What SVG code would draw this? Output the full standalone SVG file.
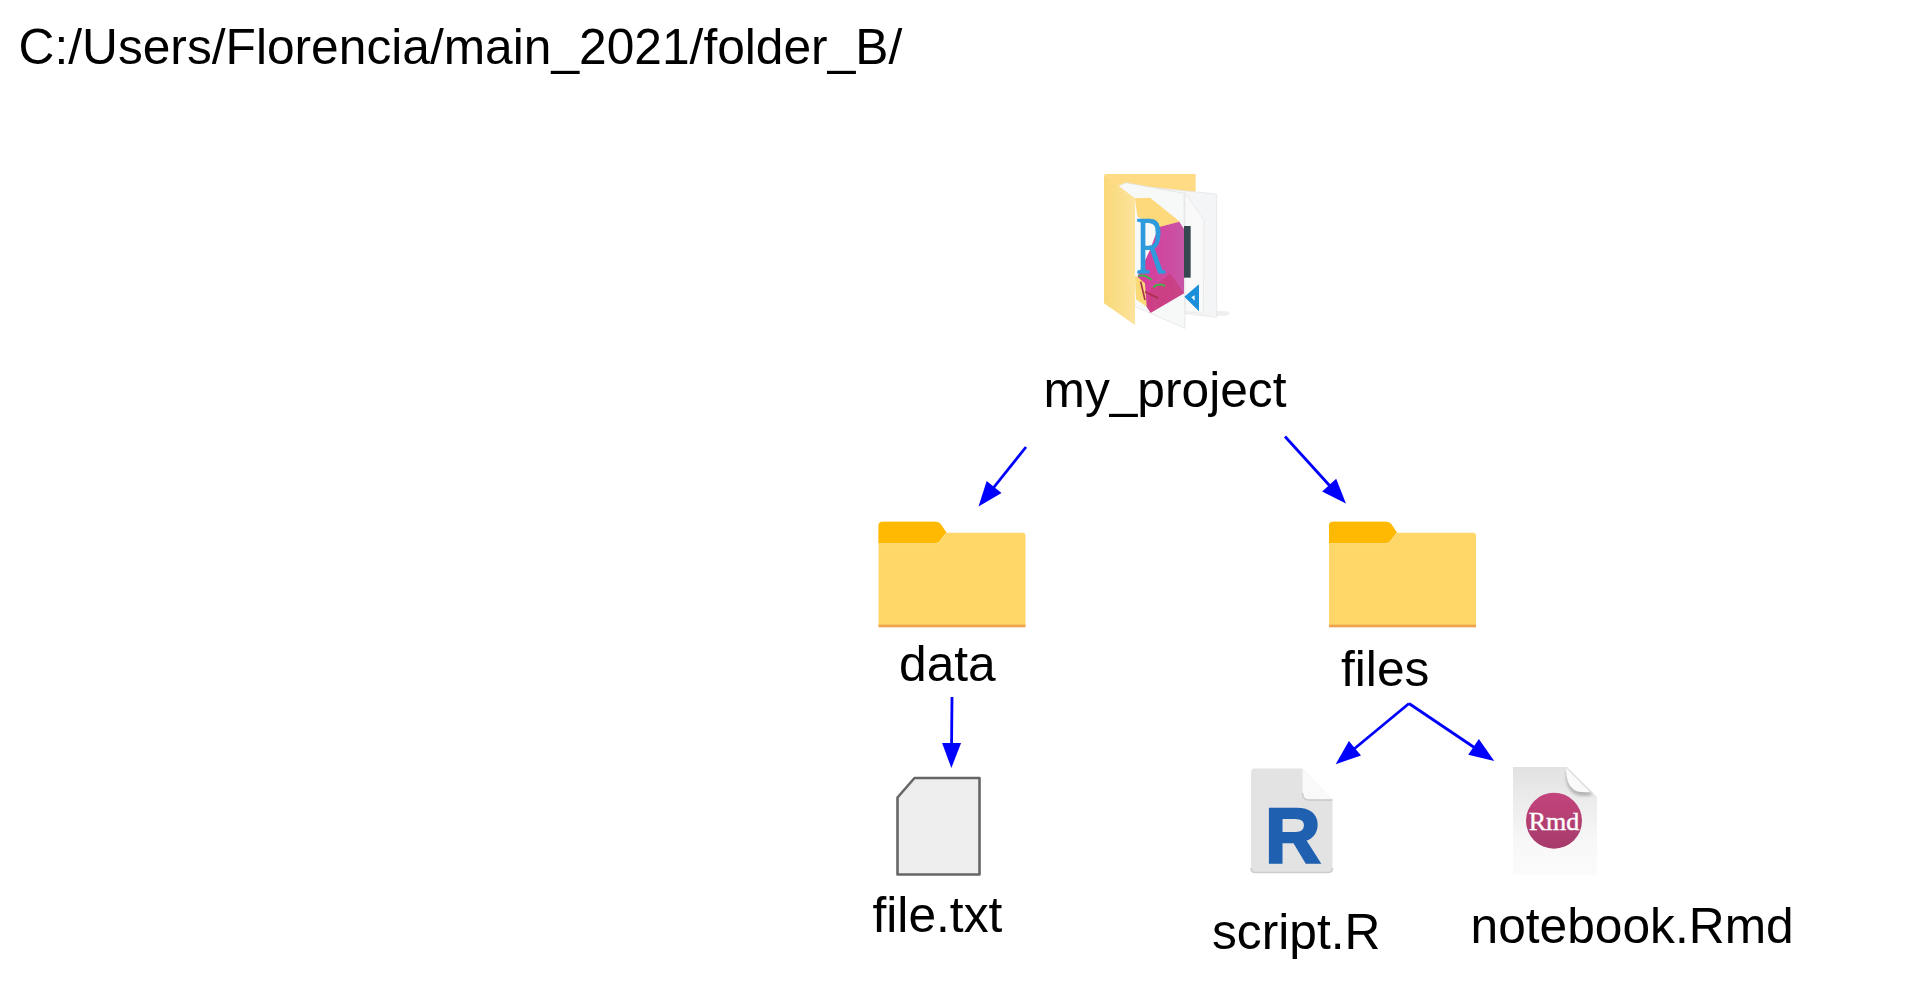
<svg xmlns="http://www.w3.org/2000/svg" width="1918" height="982" viewBox="0 0 1918 982">
<style>
.lbl{font-family:"Liberation Sans",Arial,sans-serif;font-size:49.7px;fill:#000}
.arrow{fill:none;stroke:#0000ff;stroke-width:2.8;marker-end:url(#head)}
</style>
<defs>
<marker id="head" markerUnits="userSpaceOnUse" markerWidth="26" markerHeight="20" refX="9" refY="9.5" orient="auto" overflow="visible"><path d="M0,0 L25,9.5 L0,19 Z" fill="#0000ff"/></marker>
<filter id="soft" x="-10%" y="-10%" width="120%" height="120%"><feGaussianBlur stdDeviation="0.6"/></filter>
<filter id="softer" x="-10%" y="-10%" width="120%" height="120%"><feGaussianBlur stdDeviation="1.5"/></filter>
<linearGradient id="flap" x1="0" y1="0" x2="1" y2="0"><stop offset="0" stop-color="#F8D878"/><stop offset="1" stop-color="#FDE49D"/></linearGradient>
<linearGradient id="pink" x1="0" y1="0" x2="1" y2="0"><stop offset="0" stop-color="#D9399A"/><stop offset="1" stop-color="#C755A6"/></linearGradient>
<linearGradient id="rmdpaper" x1="0" y1="0" x2="0" y2="1"><stop offset="0" stop-color="#E2E2E2"/><stop offset="0.7" stop-color="#F8F8F8"/><stop offset="1" stop-color="#FBFBFB"/></linearGradient>
<linearGradient id="rmdball" x1="0" y1="0" x2="0" y2="1"><stop offset="0" stop-color="#C4447C"/><stop offset="1" stop-color="#A53B6B"/></linearGradient>
<g id="folderIcon">
<path d="M0,22 V4 Q0,0 4,0 H57 Q60,0 62,2 L68,11 H144 Q147,11 147,14 V104 H0 Z" fill="#FFD768"/>
<path d="M0,22 V4 Q0,0 4,0 H57 Q60,0 62,2 L68,11 L61,20 Q59,22 56,22 Z" fill="#FFB900"/>
<path d="M68,11 L61,20 Q59,22 56,22 H0" fill="none" stroke="#FFE08A" stroke-width="1"/>
<rect x="0" y="103" width="147" height="2.6" fill="#EFA24C"/>
</g>
</defs>
<rect width="1918" height="982" fill="#ffffff"/>

<text id="path-label" class="lbl" x="18.5" y="63.5">C:/Users/Florencia/main_2021/folder_B/</text>

<g id="node-my_project">
<g transform="translate(1050 150) scale(0.3333)" filter="url(#soft)">
<ellipse cx="510" cy="490" rx="30" ry="8" fill="#EFEFEF"/>
<polygon points="162,72 437,72 437,180 255,180" fill="#FFDC83"/>
<polygon points="265,108 500,132 500,502 400,490 265,470" fill="#F4F5F6" stroke="#E2E2E2" stroke-width="2"/>
<polygon points="405,128 462,210 460,490 405,485" fill="#F9F9FA" stroke="#E4E4E4" stroke-width="2"/>
<polygon points="228,98 402,130 405,535 255,470 200,110" fill="#F7F8F8" stroke="#E0E0E0" stroke-width="2"/>
<rect x="402" y="228" width="20" height="155" fill="#34474F"/>
<path d="M447,403 V484 L403,440 Z M434,436 L424,442 L434,452 Z" fill="#1A8FDB" fill-rule="evenodd"/>
<polygon points="255,145 300,143 390,215 330,232 262,200" fill="#FDD97C"/>
<polygon points="255,378 292,395 292,472 258,448" fill="#FAD977"/>
<polygon points="325,232 388,215 402,237 402,430 302,488 290,470 285,400 262,380 300,300" fill="url(#pink)"/>
<polygon points="402,430 302,488 290,470 300,420 360,370" fill="#C93E7C" opacity="0.75"/>
<text x="258" y="368" font-family="Liberation Serif,serif" font-size="250" fill="#2E9BDD" stroke="#2E9BDD" stroke-width="2" textLength="88" lengthAdjust="spacingAndGlyphs">R</text>
<path d="M265,378 Q285,372 305,390 M310,412 Q325,398 345,408" fill="none" stroke="#3DB54A" stroke-width="6"/>
<path d="M272,395 L285,450 M285,425 L325,445" fill="none" stroke="#A8324E" stroke-width="5"/>
<polygon points="162,75 255,145 255,525 162,460" fill="url(#flap)"/>
</g>
<text class="lbl" x="1043.5" y="406.7">my_project</text>
</g>

<g id="node-data">
<use href="#folderIcon" x="878.5" y="521.7"/>
<text class="lbl" x="899" y="681">data</text>
</g>

<g id="node-files">
<use href="#folderIcon" x="1329" y="521.7"/>
<text class="lbl" x="1341" y="686">files</text>
</g>

<g id="node-file-txt">
<path d="M914.5,778 H979.5 V874.5 H897.5 V797.5 Z" fill="#EEEEEE" stroke="#666666" stroke-width="2.6" stroke-linejoin="round"/>
<text class="lbl" x="872.5" y="931.7">file.txt</text>
</g>

<g id="node-script-r">
<path d="M1255,768.5 H1302.5 L1332.5,800 V868 Q1332.5,872.5 1328,872.5 H1255 Q1251,872.5 1251,868 V772.5 Q1251,768.5 1255,768.5 Z" fill="#E3E3E3"/>
<path d="M1251,868 Q1251,872.5 1255,872.5 H1328 Q1332.5,872.5 1332.5,868" fill="none" stroke="#CDCDCD" stroke-width="1.6"/>
<path d="M1302.5,768.5 L1332.5,800 H1309 Q1302.5,800 1302.5,793 Z" fill="#F9F9F9"/>
<path d="M1302.5,793 Q1302.5,800 1309,800 H1332.5" fill="none" stroke="#C8C8C8" stroke-width="1.4"/>
<text x="1265" y="861.5" font-family="Liberation Sans,Arial,sans-serif" font-weight="700" font-size="77" fill="#2060B0" stroke="#2060B0" stroke-width="2.5">R</text>
<text class="lbl" x="1212" y="948.5">script.R</text>
</g>

<g id="node-notebook">
<path d="M1514,875.5 H1596" stroke="#BDBDBD" stroke-width="2" filter="url(#soft)"/>
<path d="M1513,767 H1567 L1597,797 V875 H1513 Z" fill="url(#rmdpaper)"/>
<path d="M1566,770 L1593,795 Q1578,798 1572,792 Q1565,786 1566,770 Z" fill="#B4B4B4" filter="url(#softer)"/>
<path d="M1566,768 L1590,792 Q1577,793 1573,789 Q1566,784 1566,768 Z" fill="#FAFAFA"/>
<circle cx="1554" cy="820.7" r="28" fill="url(#rmdball)"/>
<text x="1554" y="830" text-anchor="middle" font-family="Liberation Serif,serif" font-size="26" fill="#ffffff" stroke="#ffffff" stroke-width="0.4">Rmd</text>
<text class="lbl" x="1470.5" y="942.5">notebook.Rmd</text>
</g>

<g id="connectors">
<line class="arrow" x1="1026" y1="447" x2="988.5" y2="494"/>
<line class="arrow" x1="1285" y1="436.5" x2="1335.2" y2="491.7"/>
<line class="arrow" x1="952" y1="697" x2="951.5" y2="752"/>
<line class="arrow" x1="1409" y1="703.5" x2="1348" y2="754"/>
<line class="arrow" x1="1409" y1="703.5" x2="1481" y2="752"/>
</g>
</svg>
